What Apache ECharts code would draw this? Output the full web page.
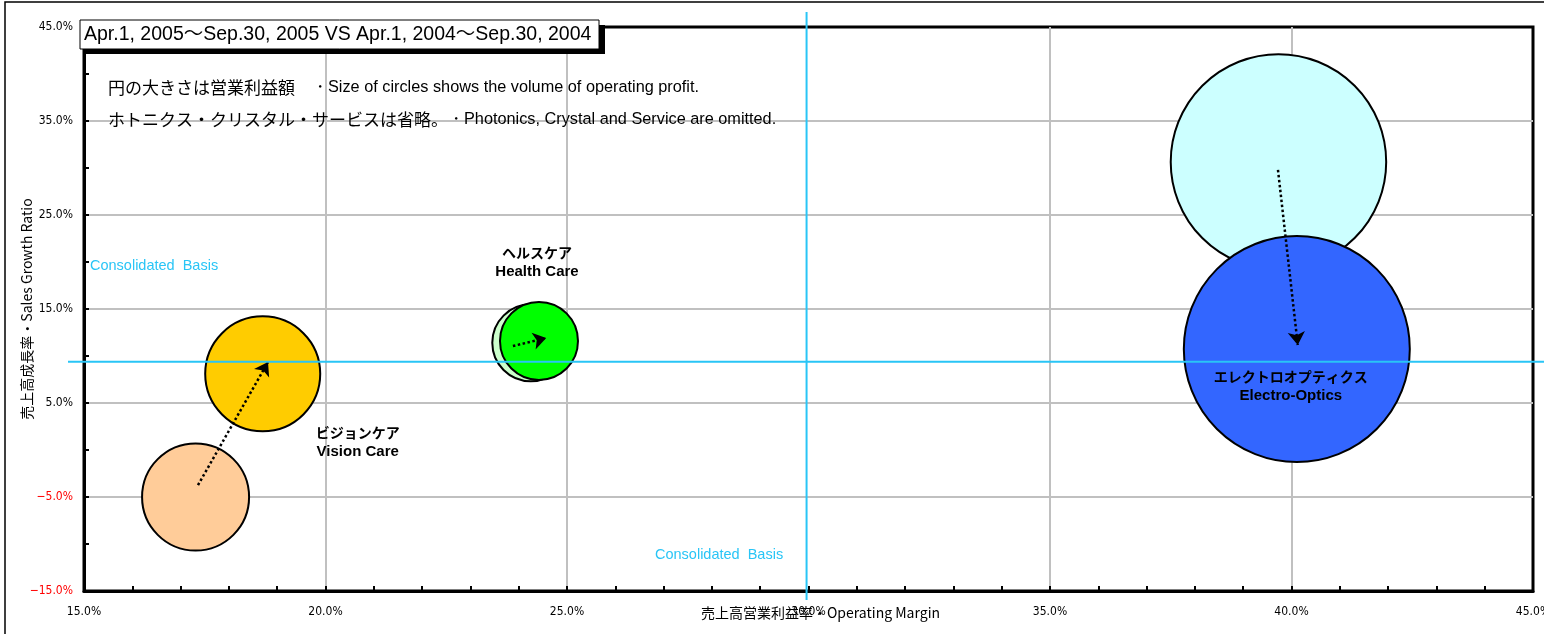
<!DOCTYPE html>
<html><head><meta charset="utf-8">
<script src="https://cdn.jsdelivr.net/npm/echarts@6/dist/echarts.min.js"></script>
<style>html,body{margin:0;padding:0;background:#fff}#c{width:1544px;height:634px}</style>
</head><body><div id="c"></div>
<script>
// ---- data ----
const segmentsJa = ['ビジョンケア', 'ヘルスケア', 'エレクトロオプティクス'];
const segmentsEn = ['Vision Care', 'Health Care', 'Electro-Optics'];
// previous period (Apr.1, 2004 - Sep.30, 2004)
const margin2004 = [17.31, 24.25, 39.73];   // operating margin %
const growth2004 = [-5.0, 11.4, 30.65];     // sales growth %
const profit2004 = [74, 38.3, 300];         // operating profit (circle size)
// current period (Apr.1, 2005 - Sep.30, 2005)
const margin2005 = [18.70, 24.42, 40.11];
const growth2005 = [8.1, 11.6, 10.74];
const profit2005 = [85.5, 39.3, 330];
// arrows (start / end, in axis units)
const arrowFrom = [[17.36, -3.74], [23.88, 11.06], [39.72, 29.8]];
const arrowTo   = [[18.81, 9.36], [24.57, 11.91], [40.13, 11.17]];
// consolidated basis reference lines
const consolidatedMargin = 29.96;
const consolidatedGrowth = 9.39;
// ticks
const xLabelValues = [15, 20, 25, 30, 35, 40, 45];
const yLabelValues = [-15, -5, 5, 15, 25, 35, 45];
const xGridValues = [20, 25, 35, 40];
const yGridValues = [-5, 5, 15, 25, 35];

const titleText = 'Apr.1, 2005～Sep.30, 2005 VS Apr.1, 2004～Sep.30, 2004';
const noteJa1 = '円の大きさは営業利益額　', noteEn1 = '・Size of circles shows the volume of operating profit.';
const noteJa2 = 'ホトニクス・クリスタル・サービスは省略。', noteEn2 = '・Photonics, Crystal and Service are omitted.';
const basisText = 'Consolidated  Basis';
const xName = '売上高営業利益率・Operating Margin';
const yName = '売上高成長率・Sales Growth Ratio';

// ---- styles ----
const prevColors = ['#FFCC99', '#CCFFCC', '#CCFFFF'];
const currColors = ['#FFCC00', '#00FF00', '#3366FF'];
const labelOffsets = [[95, 68], [-2, -79], [-6, 37]];
const K = 12.44;
const CYAN = '#29C5F6';
const NUMFONT = '"DejaVu Sans Condensed", "Liberation Sans", sans-serif';
const LATIN = '"Liberation Sans", Arial, sans-serif';
const JP = '"Noto Sans CJK JP", sans-serif';

function pct(v) { return (v < 0 ? '−' : '') + Math.abs(v).toFixed(1) + '%'; }

const chart = echarts.init(document.getElementById('c'));

const prevData = segmentsEn.map((s, i) => ({
  name: s, value: [margin2004[i], growth2004[i], profit2004[i]],
  itemStyle: { color: prevColors[i] }
}));
const currData = segmentsEn.map((s, i) => ({
  name: s, value: [margin2005[i], growth2005[i], profit2005[i]],
  itemStyle: { color: currColors[i] },
  label: { show: true, position: 'inside', offset: labelOffsets[i],
    formatter: '{jp|' + segmentsJa[i] + '}\n{en|' + segmentsEn[i] + '}' }
}));
const arrowData = arrowFrom.map((f, i) => ({ coords: [f, arrowTo[i]] }));

const option = {
  animation: false,
  grid: { left: 84, right: 11, top: 27, bottom: 43, show: true, borderColor: '#000', borderWidth: 3,
    backgroundColor: 'transparent', outerBoundsMode: 'none', containLabel: false },
  xAxis: {
    type: 'value', min: 15, max: 45, interval: 1,
    axisLine: { onZero: false, lineStyle: { color: '#000', width: 3 } },
    axisTick: { inside: true, length: 5, lineStyle: { color: '#000', width: 2 } },
    splitLine: { show: false },
    axisLabel: { margin: 15, color: '#000', fontSize: 12, fontFamily: NUMFONT,
      formatter: v => xLabelValues.includes(v) ? pct(v) : '' },
    name: xName, nameLocation: 'middle', nameGap: 15, nameMoveOverlap: false,
    nameTextStyle: { color: '#000', fontSize: 14, fontFamily: JP, padding: [0, 0, 0, 24] }
  },
  yAxis: {
    type: 'value', min: -15, max: 45, interval: 5,
    axisLine: { onZero: false, lineStyle: { color: '#000', width: 3 } },
    axisTick: { inside: true, length: 5, lineStyle: { color: '#000', width: 2 } },
    splitLine: { show: false },
    axisLabel: { margin: 11, color: '#000', fontSize: 12, fontFamily: NUMFONT,
      formatter: v => yLabelValues.includes(v) ? (v < 0 ? '{neg|' + pct(v) + '}' : pct(v)) : '',
      rich: { neg: { color: '#FF0000', fontSize: 12, fontFamily: NUMFONT } } },
    name: yName, nameLocation: 'middle', nameGap: 50, nameMoveOverlap: false,
    nameTextStyle: { color: '#000', fontSize: 14, fontFamily: JP }
  },
  series: [
    { type: 'scatter', data: [], z: 1, silent: true,
      markLine: { z: 0, silent: true, symbol: ['none', 'none'], label: { show: false }, animation: false,
        lineStyle: { color: '#C0C0C0', width: 2, type: 'solid' },
        data: xGridValues.map(v => ({ xAxis: v })).concat(yGridValues.map(v => ({ yAxis: v }))) } },
    { type: 'scatter', name: '2004', z: 2, data: prevData,
      symbolSize: d => K * Math.sqrt(d[2]),
      itemStyle: { borderColor: '#000', borderWidth: 2, opacity: 1 } },
    { type: 'scatter', name: '2005', z: 3, data: currData,
      symbolSize: d => K * Math.sqrt(d[2]),
      itemStyle: { borderColor: '#000', borderWidth: 2, opacity: 1 },
      label: { rich: {
        jp: { fontFamily: JP, fontWeight: 'bold', fontSize: 14, color: '#000', lineHeight: 19 },
        en: { fontFamily: LATIN, fontWeight: 'bold', fontSize: 15, color: '#000', lineHeight: 19 } } } },
    { type: 'lines', coordinateSystem: 'cartesian2d', z: 4, data: arrowData,
      symbol: ['none', 'arrow'], symbolSize: [0, 13],
      lineStyle: { color: '#000', width: 2.5, type: 'dotted', opacity: 1 } }
  ]
};
chart.setOption(option);

const p = chart.convertToPixel({ xAxisIndex: 0, yAxisIndex: 0 }, [consolidatedMargin, consolidatedGrowth]);
const noteRich = { jp: { fontFamily: JP, fontSize: 17, fill: '#000' }, en: { fontFamily: LATIN, fontSize: 16.3, fill: '#000' } };
chart.setOption({
  graphic: [
    { type: 'rect', silent: true, z: 0, shape: { x: 5, y: 2, width: 1700, height: 700 },
      style: { fill: 'none', stroke: '#000', lineWidth: 1.5 } },
    { type: 'line', silent: true, z: 50, shape: { x1: 68, y1: p[1], x2: 1544, y2: p[1] },
      style: { stroke: CYAN, lineWidth: 2 } },
    { type: 'line', silent: true, z: 50, shape: { x1: p[0], y1: 12, x2: p[0], y2: 600 },
      style: { stroke: CYAN, lineWidth: 2 } },
    { type: 'text', silent: true, z: 60, x: 90, y: 266,
      style: { text: basisText, fill: CYAN, fontSize: 14.5, fontFamily: LATIN, verticalAlign: 'middle' } },
    { type: 'text', silent: true, z: 60, x: 655, y: 555,
      style: { text: basisText, fill: CYAN, fontSize: 14.5, fontFamily: LATIN, verticalAlign: 'middle' } },
    { type: 'rect', silent: true, z: 70, shape: { x: 86, y: 25, width: 519, height: 29 }, style: { fill: '#000' } },
    { type: 'rect', silent: true, z: 71, shape: { x: 80, y: 20, width: 519, height: 29 },
      style: { fill: '#fff', stroke: '#000', lineWidth: 1 } },
    { type: 'text', silent: true, z: 72, x: 84, y: 35,
      style: { text: titleText, fill: '#000', fontSize: 19.5, fontFamily: LATIN + ', ' + JP, verticalAlign: 'middle' } },
    { type: 'text', silent: true, z: 60, x: 108, y: 88,
      style: { text: '{jp|' + noteJa1 + '}{en|' + noteEn1 + '}', verticalAlign: 'middle', rich: noteRich } },
    { type: 'text', silent: true, z: 60, x: 108, y: 120,
      style: { text: '{jp|' + noteJa2 + '}{en|' + noteEn2 + '}', verticalAlign: 'middle', rich: noteRich } }
  ]
});
</script>
</body></html>
